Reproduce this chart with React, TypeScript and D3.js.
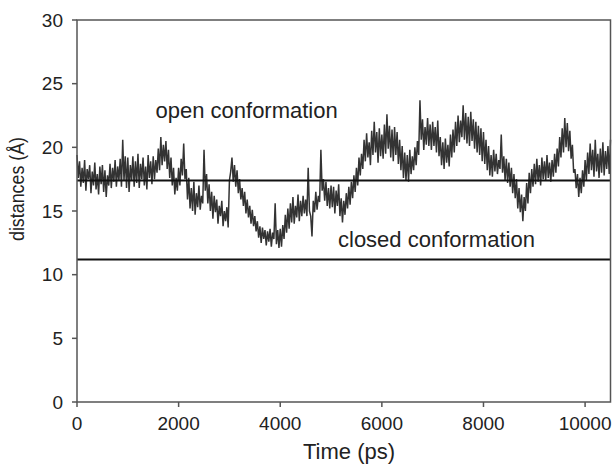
import React from "react";
import * as d3 from "d3";

const timeStep = 25; // ps between samples
const distances: number[] = [
  19.4, 17.6, 18.9, 16.9, 18.4, 17.2, 19.0, 16.6, 18.3, 17.5, 18.6, 16.4, 18.1, 17.0, 18.8, 16.7, 17.9, 16.3, 18.5, 17.1,
  18.6, 16.5, 18.2, 16.1, 17.8, 17.0, 18.7, 16.8, 18.4, 17.3, 19.0, 16.9, 18.5, 17.4, 19.1, 16.9, 20.6, 17.4, 19.3, 16.8,
  19.2, 16.5, 18.6, 17.4, 19.3, 16.9, 18.9, 17.2, 19.5, 16.8, 18.7, 17.5, 19.2, 17.0, 18.5, 16.7, 19.4, 17.6, 18.9, 17.1,
  19.3, 17.5, 19.0, 18.0, 19.9, 18.2, 20.8, 18.6, 20.2, 18.9, 20.5, 18.3, 19.8, 17.6, 19.2, 17.0, 18.4, 16.3, 17.6, 16.6,
  18.4, 17.0, 19.1, 17.8, 20.3, 17.5, 18.3, 15.9, 17.6, 15.2, 16.8, 15.0, 17.3, 14.7, 16.4, 15.3, 17.0, 15.1, 16.2, 15.6,
  19.8, 16.6, 17.9, 15.6, 17.1, 15.0, 16.5, 14.4, 16.2, 14.9, 15.9, 14.0, 15.4, 14.6, 15.8, 13.8, 15.0, 14.2, 15.3, 13.7,
  17.4, 18.1, 19.2, 17.3, 18.6, 16.9, 18.2, 16.4, 17.5, 15.9, 16.8, 15.4, 16.5, 14.8, 15.9, 14.5, 15.4, 14.0, 15.1, 13.8,
  14.6, 13.4, 14.2, 12.9, 13.8, 12.5, 13.7, 12.8, 13.5, 12.3, 13.4, 12.6, 13.6, 12.2, 13.3, 12.8, 15.6, 12.4, 13.5, 12.1,
  13.6, 12.2, 13.9, 12.8, 14.7, 13.3, 15.2, 13.6, 15.6, 14.1, 16.1, 14.0, 15.4, 14.5, 16.3, 14.2, 15.8, 14.6, 16.2, 14.8,
  15.9, 14.6, 18.4, 15.0, 14.6, 13.0, 15.8, 14.9, 16.5, 15.1, 16.2, 15.7, 19.8, 16.6, 17.5, 15.8, 17.3, 15.4, 16.8, 15.2,
  17.0, 15.3, 16.9, 14.8, 16.6, 15.4, 17.1, 14.6, 16.0, 14.1, 15.8, 14.7, 16.4, 15.2, 16.9, 15.5, 17.3, 16.0, 17.8, 16.5,
  18.4, 17.0, 19.2, 17.8, 19.5, 18.3, 20.6, 18.9, 21.1, 19.2, 20.4, 18.6, 21.3, 19.4, 22.0, 19.6, 21.2, 18.8, 21.5, 19.3,
  21.0, 19.1, 21.8, 19.5, 22.6, 19.9, 21.7, 19.2, 21.4, 18.9, 21.6, 19.4, 21.2, 18.7, 20.6, 18.2, 20.1, 17.6, 19.6, 17.4,
  19.4, 17.3, 19.8, 17.9, 19.3, 18.2, 20.0, 18.6, 20.5, 19.4, 23.7, 20.6, 22.2, 19.8, 21.6, 20.2, 22.3, 20.1, 21.8, 19.8,
  22.0, 20.1, 21.6, 19.6, 22.1, 19.3, 20.8, 18.6, 20.4, 18.3, 20.7, 18.8, 20.2, 18.5, 21.0, 19.2, 21.4, 19.6, 22.0, 20.1,
  22.5, 20.4, 22.1, 20.8, 23.3, 20.6, 22.7, 20.3, 22.4, 20.1, 22.8, 20.5, 22.2, 19.9, 22.0, 19.6, 21.7, 19.4, 21.5, 18.9,
  21.2, 18.7, 20.6, 18.2, 20.1, 17.8, 19.4, 17.7, 19.8, 18.1, 19.5, 17.9, 19.0, 18.3, 21.0, 18.0, 19.3, 17.4, 19.1, 17.2,
  18.8, 16.9, 18.4, 16.4, 17.9, 16.0, 17.5, 15.2, 16.8, 14.9, 16.3, 14.2, 16.1, 15.0, 17.2, 15.6, 18.0, 16.4, 18.3, 16.9,
  18.7, 17.1, 19.1, 17.3, 18.6, 17.0, 19.2, 17.5, 18.9, 17.4, 19.4, 17.6, 18.8, 17.3, 19.0, 17.7, 19.5, 18.0, 19.9, 18.5,
  20.8, 19.2, 21.5, 19.6, 22.3, 20.0, 21.9, 19.7, 21.3, 19.1, 20.2, 18.0, 18.3, 16.8, 17.9, 16.1, 17.6, 16.4, 18.2, 16.9,
  19.0, 17.4, 19.6, 17.9, 20.3, 18.2, 19.8, 17.7, 20.6, 18.1, 19.5, 17.6, 19.9, 18.0, 20.4, 17.8, 19.7, 18.3, 20.1, 17.9,
  20.6,
];

const referenceLines = [
  { label: "open conformation", value: 17.4 },
  { label: "closed conformation", value: 11.2 },
];
const xTicks = [0, 2000, 4000, 6000, 8000, 10000];
const yTicks = [0, 5, 10, 15, 20, 25, 30];
const xDomain = [0, 10500];
const yDomain = [0, 30];

const W = 615;
const H = 466;
const M = { left: 77, right: 610.5, top: 20, bottom: 402 };
const FONT = "'Liberation Sans', Arial, sans-serif";

export default function App() {
  const x = d3.scaleLinear().domain(xDomain).range([M.left, M.right]);
  const y = d3.scaleLinear().domain(yDomain).range([M.bottom, M.top]);
  const pts = distances.map((v, i) => [i * timeStep, v] as [number, number]);
  const line = d3
    .line<[number, number]>()
    .x((d) => x(d[0]))
    .y((d) => y(d[1]));
  const axisColor = "#555";

  return (
    <svg
      width={W}
      height={H}
      style={{ position: "absolute", left: 0, top: 0, background: "#fff" }}
      fontFamily={FONT}
    >
      <rect x={0} y={0} width={W} height={H} fill="#fff" />
      {/* data trace */}
      <path d={line(pts) || ""} fill="none" stroke="#333" strokeWidth={1.5} strokeLinejoin="bevel" />
      {/* reference lines */}
      {referenceLines.map((r) => (
        <line
          key={r.label}
          x1={M.left}
          x2={M.right}
          y1={y(r.value)}
          y2={y(r.value)}
          stroke="#111"
          strokeWidth={2}
        />
      ))}
      {/* frame */}
      <rect
        x={M.left}
        y={M.top}
        width={M.right - M.left}
        height={M.bottom - M.top}
        fill="none"
        stroke={axisColor}
        strokeWidth={1.5}
      />
      {/* y ticks */}
      {yTicks.map((t) => (
        <g key={"y" + t}>
          <line x1={M.left - 5} x2={M.left} y1={y(t)} y2={y(t)} stroke={axisColor} strokeWidth={1.5} />
          <text x={63} y={y(t)} dy="0.35em" textAnchor="end" fontSize={19} fill="#222">
            {t}
          </text>
        </g>
      ))}
      {/* x ticks */}
      {xTicks.map((t) => (
        <g key={"x" + t}>
          <line x1={x(t)} x2={x(t)} y1={M.bottom} y2={M.bottom + 5} stroke={axisColor} strokeWidth={1.5} />
          <text x={x(t)} y={430} textAnchor="middle" fontSize={19} fill="#222">
            {t}
          </text>
        </g>
      ))}
      {/* annotations */}
      <text x={155.5} y={118} fontSize={22} fill="#222">
        {referenceLines[0].label}
      </text>
      <text x={338} y={246.5} fontSize={22} fill="#222">
        {referenceLines[1].label}
      </text>
      {/* axis titles */}
      <text x={349} y={459} textAnchor="middle" fontSize={22} fill="#222">
        Time (ps)
      </text>
      <text
        transform={`translate(24,189) rotate(-90)`}
        textAnchor="middle"
        fontSize={21}
        textLength={104}
        lengthAdjust="spacingAndGlyphs"
        fill="#222"
      >
        distances (Å)
      </text>
    </svg>
  );
}
